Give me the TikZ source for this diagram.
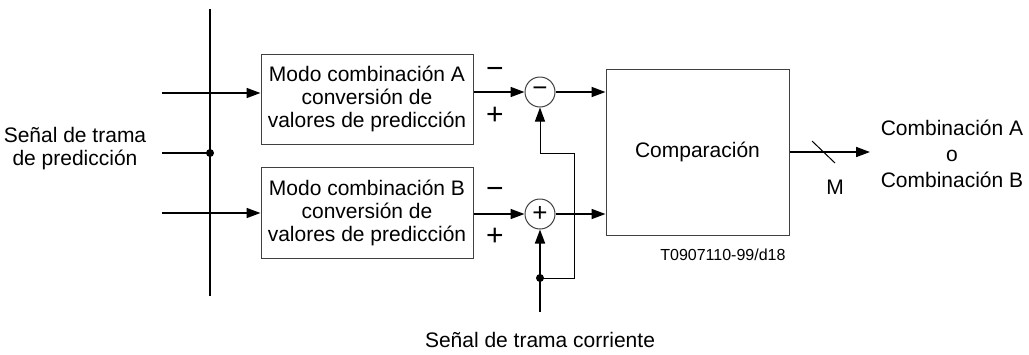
\documentclass[tikz,border=0pt]{standalone}
\usepackage{fontspec}
\setmainfont{Liberation Sans}
\usetikzlibrary{arrows.meta}
\tikzset{
  sig/.style={line width=1.6pt, -{Triangle[length=14pt,width=10pt]}},
  wire/.style={line width=1.6pt},
  fback/.style={line width=1pt, -{Triangle[length=14pt,width=10pt]}},
  block/.style={draw=black!75, line width=1pt, align=center, inner sep=0pt},
  summer/.style={circle, draw=black!75, line width=1pt, minimum size=30pt, inner sep=0pt,
    font=\fontsize{26}{26}\selectfont},
  sign/.style={font=\fontsize{30}{30}\selectfont, inner sep=0pt},
  dot/.style={circle, fill, inner sep=0pt, minimum size=8pt},
}
\begin{document}
\begin{tikzpicture}[x=1pt, y=-1pt, font=\fontsize{21}{23}\selectfont]
    \useasboundingbox (0,0) rectangle (1029,354);

    % Define the blocks
    \node[block, minimum width=212pt, minimum height=90pt] (modeA) at (367,99)
        {Modo combinación A\\conversión de\\valores de predicción};
    \node[block, minimum width=212pt, minimum height=91pt] (modeB) at (367,212.5)
        {Modo combinación B\\conversión de\\valores de predicción};
    \node[block, minimum width=183pt, minimum height=166pt] (comp) at (697.5,152) {Comparación};

    % Summing points
    \node[summer] (sumA) at (540,92) {−};
    \node[summer] (sumB) at (540,214) {+};

    % Prediction frame bus
    \draw[wire] (210,9) coordinate (bustop) -- (210,296) coordinate (busbot);
    \node[dot] (junc) at (210,153) {};
    \coordinate (predin) at (162,153);
    \draw[wire] (predin) -- (junc.center);
    \node[align=center] (predlbl) at (75,149) {Señal de trama\\de predicción};

    % Inputs to the blocks
    \foreach \y/\n in {93/A, 213/B} {
        \coordinate (in\n) at (162,\y);
        \draw[sig] (in\n) -- (in\n -| mode\n.west);
    }

    % Block outputs into the summing points
    \draw[sig] (modeA.east |- sumA) -- (sumA.west);
    \draw[sig] (modeB.east |- sumB) -- (sumB.west);
    \draw[sig] (sumA.east) -- (sumA -| comp.west);
    \draw[sig] (sumB.east) -- (sumB -| comp.west);

    % Signs
    \node[sign] (minusA) at (495,73) {−};
    \node[sign] (plusA) at (495,116) {+};
    \node[sign] (minusB) at (495,193) {−};
    \node[sign] (plusB) at (495,237) {+};

    % Current frame
    \coordinate (cur) at (540,312);
    \node[dot] (tap) at (540,278) {};
    \draw[sig] (cur) -- (sumB.south);
    \draw[fback] (tap.center) -| (574,153) -| (sumA.south);
    \node (curlbl) at (540,340) {Señal de trama corriente};

    % Output
    \coordinate (outend) at (870,152);
    \draw[sig] (comp.east) -- (outend);
    \draw[line width=1pt] (812,141) -- (835,163);
    \node (mlbl) at (835,187) {M};
    \node[align=center, font=\fontsize{21}{26}\selectfont] (result) at (952,154)
        {Combinación A\\o\\Combinación B};

    % Figure reference
    \node[anchor=east, font=\fontsize{16}{18}\selectfont] (ref) at (789,255) {T0907110-99/d18};
\end{tikzpicture}
\end{document}
